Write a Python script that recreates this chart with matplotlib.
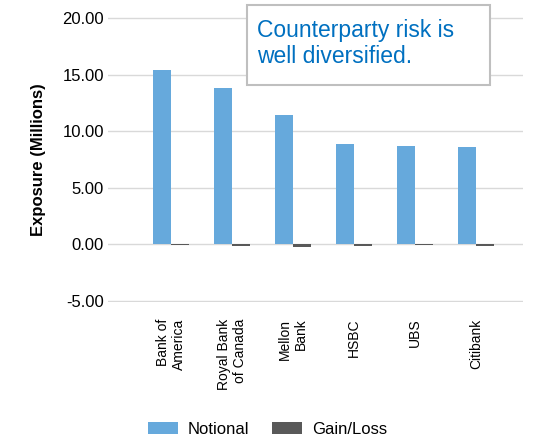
import matplotlib.pyplot as plt
from matplotlib.patches import Rectangle
import numpy as np

banks = ['Bank of\nAmerica', 'Royal Bank\nof Canada', 'Mellon\nBank', 'HSBC', 'UBS', 'Citibank']
notional = [15.4, 13.85, 11.4, 8.9, 8.7, 8.6]
gain_loss = [-0.05, -0.15, -0.2, -0.15, -0.1, -0.15]
y_ticks = [-5, 0, 5, 10, 15, 20]

plt.rcParams['font.family'] = ['Liberation Sans', 'DejaVu Sans']

W, H = 535, 443
fig = plt.figure(figsize=(W / 100, H / 100), dpi=100)
ax = fig.add_axes([108 / W, 1 - 302 / H, (523 - 108) / W, (302 - 17) / H])

x = np.arange(len(banks))
w = 0.29
ax.bar(x - w / 2, notional, w, color='#66a9dc', label='Notional')
ax.bar(x + w / 2, gain_loss, w, color='#595959', label='Gain/Loss')

ax.set_xlim(-1.03, 5.77)
ax.set_ylim(-5.1, 20.1)
ax.set_yticks(y_ticks)
ax.set_yticklabels([f'{v:.2f}' for v in y_ticks], fontsize=12)
ax.yaxis.grid(True, color='#d9d9d9', linewidth=1)
ax.set_axisbelow(True)
for s in ax.spines.values():
    s.set_visible(False)
ax.tick_params(axis='y', length=0, pad=3)
ax.tick_params(axis='x', length=0, pad=12)
ax.set_xticks(x)
ax.set_xticklabels(banks, rotation=90, fontsize=10, va='top', ha='center',
                   multialignment='right')
ax.set_ylabel('Exposure (Millions)', fontsize=12, fontweight='bold', labelpad=12)

# callout box
fig.patches.append(Rectangle((247 / W, 1 - 85 / H), (490 - 247) / W, 80 / H,
                             transform=fig.transFigure, facecolor='white',
                             edgecolor='#bfbfbf', linewidth=1.5, zorder=5))
fig.text(257 / W, 1 - 19 / H, 'Counterparty risk is\nwell diversified.',
         fontsize=16.5, color='#0070c0', va='top', ha='left', linespacing=1.15, zorder=6)

fig.legend(loc='lower center', bbox_to_anchor=(0.5, -0.02), ncol=2, frameon=False,
           fontsize=12, handlelength=1.8, handleheight=0.8, handletextpad=0.6,
           columnspacing=1.4)

fig.savefig('out.png', dpi=100)
